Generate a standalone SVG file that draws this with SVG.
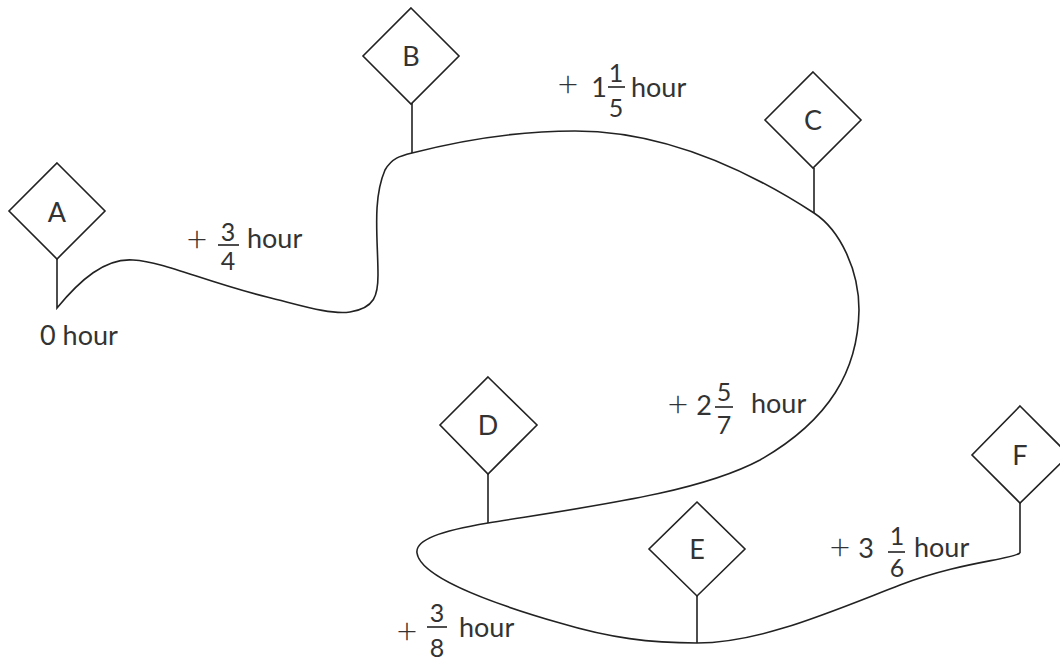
<svg xmlns="http://www.w3.org/2000/svg" width="1060" height="662" viewBox="0 0 1060 662">
<style>
.d{fill:#fff;stroke:#222;stroke-width:1.6}
.s{fill:none;stroke:#222;stroke-width:1.6}
.t{font-family:Lato,"Liberation Sans",sans-serif;font-size:27px;fill:#333}
.f{font-size:25px}
.p{font-size:36px;font-weight:300}
.m{text-anchor:middle}
</style>
<rect width="1060" height="662" fill="#fff"/>
<g id="connectors">
<path class="s" d="M57,259 V308 C80,280 105,258 133,260 C165,262 200,280 267,297 C300,305 330,315 350,312 C375,308 378,295 378,275 C378,240 372,200 385,170 C392,158 400,156 412,153 C470,138 520,131 575,131 C660,131 740,165 814,213 C840,230 859,270 859,310 C858,370 830,420 760,460 C700,492 600,505 488,523 C440,531 415,540 417,553 C420,575 480,600 560,623 C610,638 650,643 697,643 C760,643 830,612 900,585 C960,562 1010,560 1020,553"/>
<path class="s" d="M412,103 V153 M814,168 V213 M488,474 V523 M697,596 V643 M1020,503 V553"/>
</g>
<g id="A"><polygon class="d" points="57,163 105,211 57,259 9,211"/><text class="t m" x="57" y="222">A</text></g>
<g id="B"><polygon class="d" points="411,8 459,56 411,104 363,56"/><text class="t m" x="411" y="66">B</text></g>
<g id="C"><polygon class="d" points="813,72 861,120 813,168 765,120"/><text class="t m" x="813" y="130">C</text></g>
<g id="D"><polygon class="d" points="488,377 537,425 488,474 440,425"/><text class="t m" x="488" y="435">D</text></g>
<g id="E"><polygon class="d" points="697,502 745,549 697,596 649,549"/><text class="t m" x="697" y="559">E</text></g>
<g id="F"><polygon class="d" points="1020,406 1069,455 1020,503 972,455"/><text class="t m" x="1020" y="465">F</text></g>
<g id="labels">
<text class="t" x="40" y="345">0 hour</text>
<g><text class="t p m" x="197" y="252">+</text><text class="t f m" x="228" y="241">3</text><line class="s" x1="218" y1="245" x2="239" y2="245"/><text class="t f m" x="228" y="270">4</text><text class="t" x="247" y="248">hour</text></g>
<g><text class="t p m" x="568" y="97">+</text><text class="t m" x="599" y="97">1</text><text class="t f m" x="616" y="82">1</text><line class="s" x1="608" y1="87" x2="625" y2="87"/><text class="t f m" x="616" y="117">5</text><text class="t" x="631" y="97">hour</text></g>
<g><text class="t p m" x="678" y="417">+</text><text class="t m" x="704" y="415">2</text><text class="t f m" x="724" y="401">5</text><line class="s" x1="715" y1="407" x2="733" y2="407"/><text class="t f m" x="724" y="434">7</text><text class="t" x="751" y="413">hour</text></g>
<g><text class="t p m" x="407" y="644">+</text><text class="t f m" x="437" y="622">3</text><line class="s" x1="427" y1="627" x2="447" y2="627"/><text class="t f m" x="437" y="657">8</text><text class="t" x="459" y="637">hour</text></g>
<g><text class="t p m" x="840" y="560">+</text><text class="t m" x="866" y="558">3</text><text class="t f m" x="897" y="545">1</text><line class="s" x1="888" y1="552" x2="905" y2="552"/><text class="t f m" x="897" y="577">6</text><text class="t" x="914" y="557">hour</text></g>
</g>
</svg>
